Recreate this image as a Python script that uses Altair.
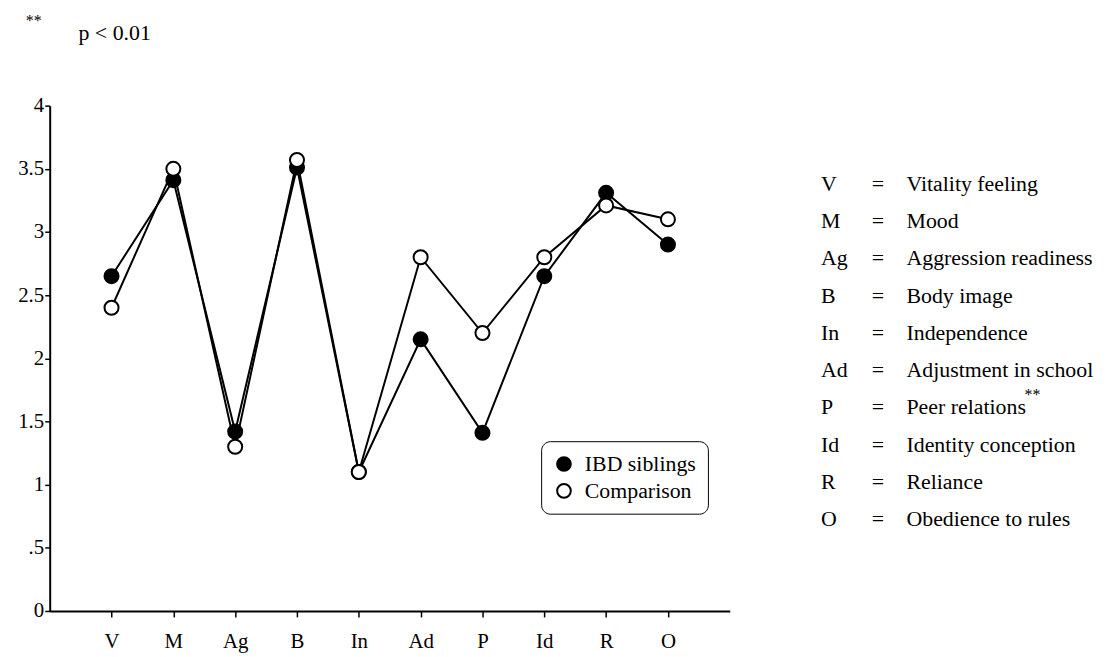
import altair as alt
import pandas as pd

cats = ["V", "M", "Ag", "B", "In", "Ad", "P", "Id", "R", "O"]
ibd = [2.65, 3.41, 1.42, 3.51, 1.1, 2.15, 1.41, 2.65, 3.31, 2.9]
comp = [2.4, 3.5, 1.3, 3.57, 1.1, 2.8, 2.2, 2.8, 3.21, 3.1]
series_names = ["IBD siblings", "Comparison"]

key_abbr = ["V", "M", "Ag", "B", "In", "Ad", "P", "Id", "R", "O"]
key_desc = ["Vitality feeling", "Mood", "Aggression readiness", "Body image",
            "Independence", "Adjustment in school", "Peer relations",
            "Identity conception", "Reliance", "Obedience to rules"]
key_sig = ["", "", "", "", "", "", "**", "", "", ""]

FONT = "Liberation Serif"

rows = []
for s, vals in zip(series_names, [ibd, comp]):
    for c, v in zip(cats, vals):
        rows.append({"cat": c, "val": v, "series": s})
df = pd.DataFrame(rows)

key_df = pd.DataFrame({"row": list(range(len(key_abbr))), "abbr": key_abbr,
                       "eq": ["="] * len(key_abbr), "desc": key_desc, "sig": key_sig})

x_enc = alt.X("cat:N", sort=cats,
              scale=alt.Scale(type="point", domain=cats, padding=1),
              axis=alt.Axis(title=None, labelAngle=0, labelFontSize=21, labelFont=FONT,
                            labelPadding=14, tickSize=6, tickWidth=1.5, tickColor="black",
                            domainColor="black", domainWidth=2, labelColor="black", grid=False))
y_enc = alt.Y("val:Q", scale=alt.Scale(domain=[0, 4], nice=False, zero=True),
              axis=alt.Axis(title=None, values=[0, 0.5, 1, 1.5, 2, 2.5, 3, 3.5, 4],
                            labelExpr="datum.value == 0.5 ? '.5' : toString(datum.value)",
                            labelFontSize=21, labelFont=FONT, labelPadding=1, tickSize=5,
                            tickWidth=1.5, tickColor="black", domainColor="black",
                            domainWidth=2, labelColor="black", grid=False))

base = alt.Chart(df)
lines = base.mark_line(color="black", strokeWidth=2).encode(
    x=x_enc, y=y_enc, detail="series:N")
points = base.mark_point(shape="circle", size=200, filled=True, stroke="black",
                         strokeWidth=2, opacity=1).encode(
    x=x_enc, y=y_enc,
    fill=alt.Fill("series:N", scale=alt.Scale(domain=series_names, range=["black", "white"]),
                  legend=alt.Legend(title=None, orient="none", legendX=495, legendY=338,
                                    strokeColor="black", cornerRadius=9, padding=12,
                                    fillColor="white", symbolType="circle", symbolSize=190,
                                    symbolStrokeColor="black", symbolStrokeWidth=2,
                                    labelFont=FONT, labelFontSize=22, labelColor="black",
                                    rowPadding=5, labelOffset=10)),
    order=alt.Order("series_order:Q"),
).transform_calculate(series_order="datum.series == 'IBD siblings' ? 0 : 1")

main = alt.layer(lines, points)

ky = alt.Y("row:Q", scale=alt.Scale(domain=[0, 9], range=[79, 416.5]), axis=None)
kbase = alt.Chart(key_df)
k_abbr = kbase.mark_text(align="left", baseline="middle", font=FONT, fontSize=22,
                         color="black").encode(x=alt.value(777), y=ky, text="abbr:N")
k_eq = kbase.mark_text(align="left", baseline="middle", font=FONT, fontSize=22,
                       color="black").encode(x=alt.value(828), y=ky, text="eq:N")
k_desc = kbase.mark_text(align="left", baseline="middle", font=FONT, fontSize=22,
                         color="black").encode(x=alt.value(863), y=ky, text="desc:N")
k_sig = kbase.mark_text(align="left", baseline="middle", font=FONT, fontSize=16,
                        color="black", dy=-13).encode(x=alt.value(982), y=ky, text="sig:N")
key = alt.layer(k_abbr, k_eq, k_desc, k_sig)

note_df = pd.DataFrame({"star": ["**"], "ptxt": ["p < 0.01"]})
n_star = alt.Chart(note_df).mark_text(align="left", baseline="middle", font=FONT,
                                      fontSize=16, color="black").encode(
    x=alt.value(-24), y=alt.value(-85), text="star:N")
n_p = alt.Chart(note_df).mark_text(align="left", baseline="middle", font=FONT,
                                   fontSize=22, color="black").encode(
    x=alt.value(29), y=alt.value(-73), text="ptxt:N")

chart = alt.layer(main, key, n_star, n_p).resolve_scale(y="independent").properties(
    width=685, height=509, background="white",
    autosize=alt.AutoSizeParams(type="none"),
    padding={"left": 42, "top": 96, "right": 383, "bottom": 42},
).configure_view(stroke=None, strokeWidth=0)

chart.save("out.html", embed_options={"renderer": "svg", "actions": False})
